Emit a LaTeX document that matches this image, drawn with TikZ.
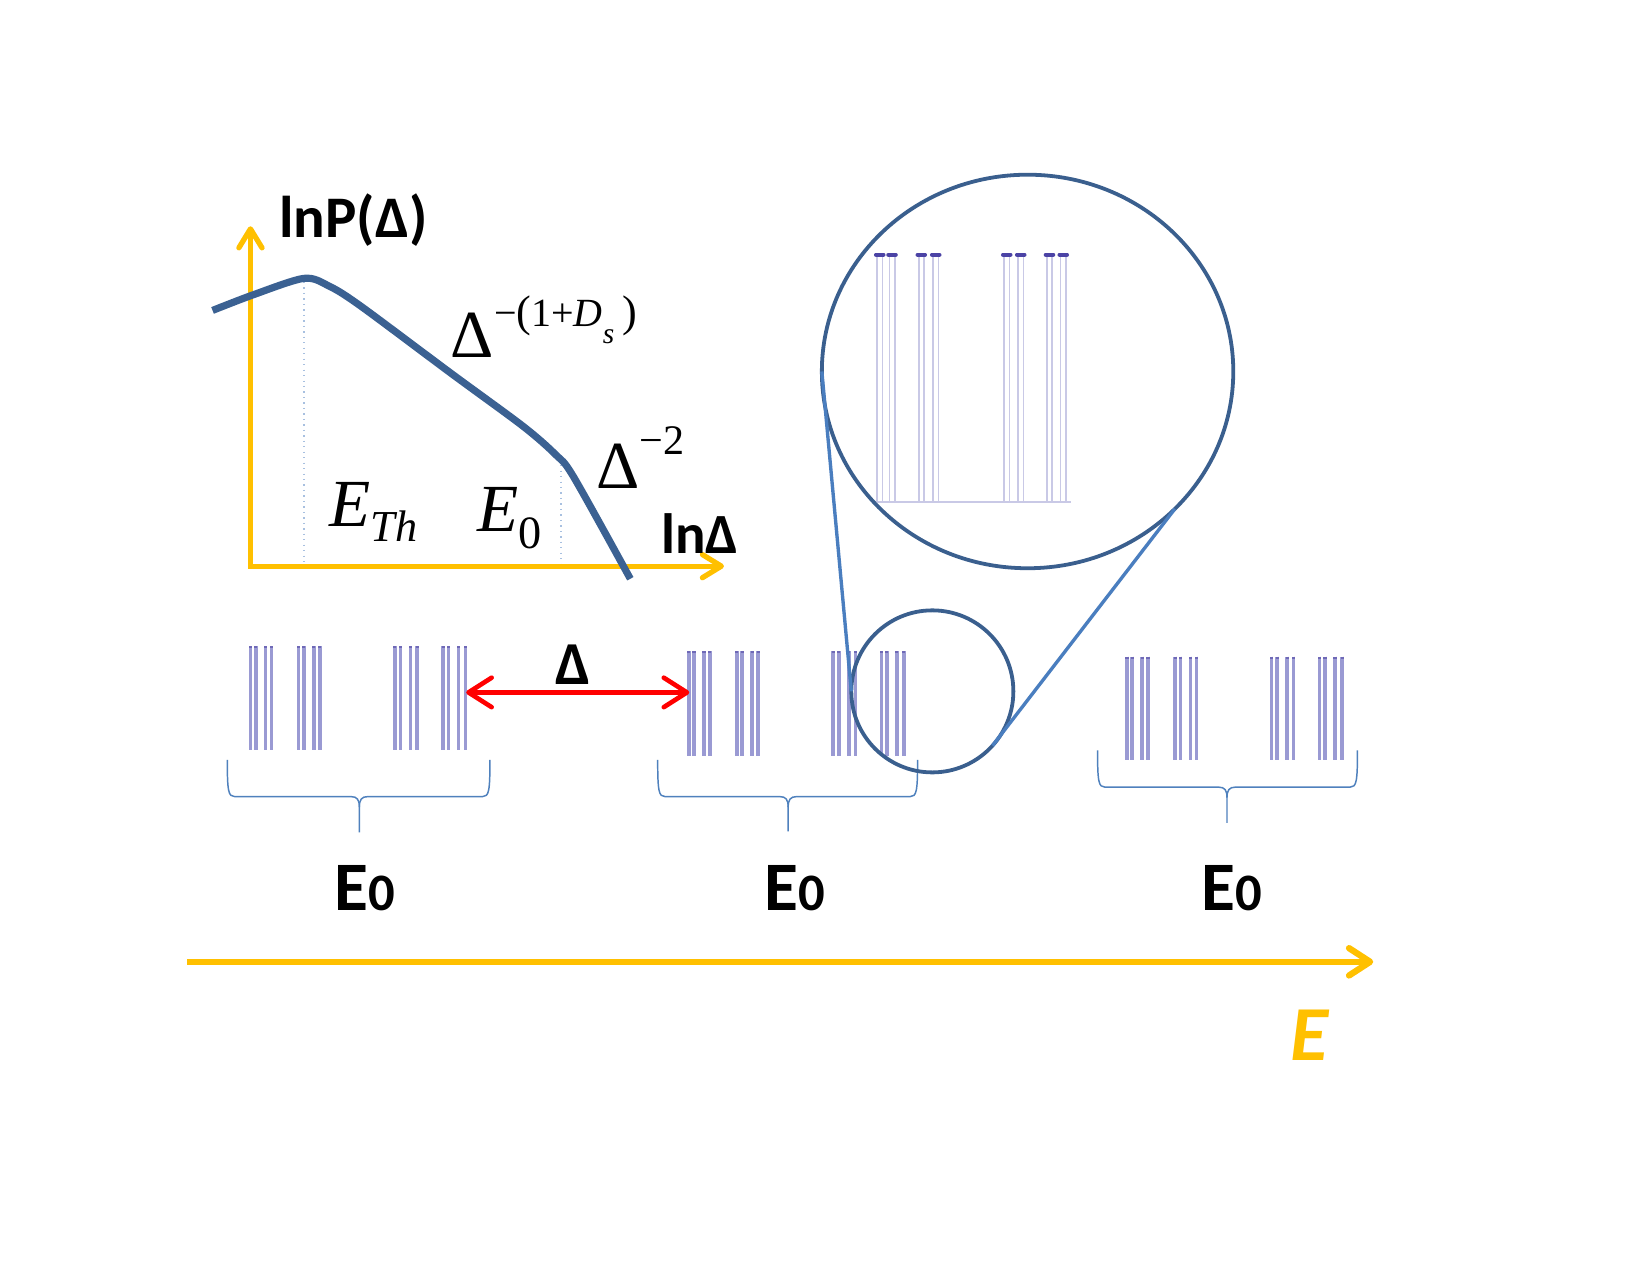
\documentclass[tikz,border=0pt]{standalone}
\usepackage{fontspec}
\setmainfont{Liberation Serif}
\newfontfamily\carl{Carlito}
\newfontfamily\tms{Liberation Serif}
\usetikzlibrary{arrows.meta,shapes.geometric}
\definecolor{axisy}{HTML}{FFC000}
\definecolor{curvec}{HTML}{3B6192}
\definecolor{circc}{HTML}{3A5F8E}
\definecolor{linkc}{HTML}{4A7EBF}
\definecolor{bracec}{HTML}{4F81BD}
\definecolor{barc}{HTML}{9A9AD3}
\definecolor{barcap}{HTML}{4B43A5}
\definecolor{zbarc}{HTML}{C9C9E6}
\definecolor{dotc}{HTML}{A8C0E0}
\definecolor{redc}{HTML}{FF0000}
\tikzset{
  axisline/.style={draw=axisy, line width=2.5pt, line join=miter},
  bigaxis/.style={draw=axisy, line width=3pt, -{Straight Barb[length=10pt,width=13pt,round]}},
  curveline/.style={draw=curvec, line width=3.4pt, line cap=butt, line join=round},
  dotline/.style={draw=dotc, line width=0.6pt, dotted},
  barline/.style={draw=barc, line width=1.7pt},
  barcapst/.style={draw=barcap!80!white, line width=1.5pt},
  zbar/.style={draw=zbarc, line width=0.8pt},
  zcap/.style={draw=barcap, line width=2pt, line cap=round},
  bracest/.style={draw=bracec, line width=0.7pt},
  ring/.style={draw=circc, line width=1.8pt, inner sep=0pt, outer sep=0pt},
  link/.style={draw=linkc, line width=1.6pt},
  redarrow/.style={draw=redc, line width=2.2pt, {Straight Barb[length=11pt,width=14pt,round]}-{Straight Barb[length=11pt,width=14pt,round]}},
  sanslab/.style={inner sep=0pt, font=\carl\bfseries},
  txt/.style={inner sep=0pt},
}
\newcommand\bargroup[3]{%
  \foreach \d in {0,5,14.5,20,45.7,50.7,60.2,66,137.2,142.6,152.1,158.4,183.1,188.2,197.7,204.4}{%
    \draw[barline] ({#1+\d},#2) -- ({#1+\d},#3);
    \draw[barcapst] ({#1+\d},#2) -- ({#1+\d},{#2+2});
  }}
\newcommand\bracedown[6]{% L R top h M tip
  \draw[bracest] (#1,#3) .. controls (#1,{#4-5}) and ({#1+1},#4) .. ({#1+7},#4)
    -- ({#5-8},#4) .. controls ({#5-2},#4) and (#5,{#4+3}) .. (#5,{#4+10}) -- (#5,#6);
  \draw[bracest] (#2,#3) .. controls (#2,{#4-5}) and ({#2-1},#4) .. ({#2-7},#4)
    -- ({#5+8},#4) .. controls ({#5+2},#4) and (#5,{#4+3}) .. (#5,{#4+10});
}
\begin{document}
\begin{tikzpicture}[x=0.5pt,y=-0.5pt]
\useasboundingbox (0,0) rectangle (1568,1212);
\fill[white] (0,0) rectangle (1568,1212);

% ---- plot
\coordinate (o) at (238,538);
\coordinate (ytip) at (238,215);
\coordinate (xtip) at (688,538);
\draw[dotline] (289,268) -- (289,538);
\draw[dotline] (533,442) -- (533,538);
\draw[axisline, {Straight Barb[length=9pt,width=11pt,round]}-{Straight Barb[length=9pt,width=11pt,round]}] (ytip) -- (o) -- (xtip);
\draw[curveline] plot[smooth,tension=0.5] coordinates {(202,295) (241,280) (289,264.5) (313,272) (343,291) (429,355) (497,405) (528,432) (545,453) (599,550)};

\node[sanslab, anchor=base west] (ylab) at (265,226) {\fontsize{28}{28}\selectfont lnP(Δ)};
\node[sanslab, anchor=base west] (xlab) at (628,526) {\fontsize{27}{27}\selectfont lnΔ};
\node[txt, anchor=base west] (lawa) at (428,340) {\tms\fontsize{32}{32}\selectfont Δ\raisebox{15pt}{\fontsize{19}{19}\selectfont −{\fontsize{21}{21}\selectfont(}1+\textit{D}\raisebox{-8pt}{\fontsize{14}{14}\selectfont\textit{s}}\hspace{4pt}{\fontsize{21}{21}\selectfont)}}};
\node[txt, anchor=base west] (lawb) at (566,464) {\tms\fontsize{32}{32}\selectfont Δ\raisebox{16pt}{\fontsize{20}{20}\selectfont −2}};
\node[txt, anchor=base west] (eth) at (313,500) {\tms\fontsize{32}{32}\selectfont\textit{E}\raisebox{-7.5pt}{\fontsize{21}{21}\selectfont\textit{Th}}};
\node[txt, anchor=base west] (ezero) at (453,505) {\tms\fontsize{32}{32}\selectfont\textit{E}\raisebox{-8pt}{\fontsize{22}{22}\selectfont 0}};

% ---- spectra
\bargroup{238}{614}{713}
\bargroup{654.5}{619}{718}
\bargroup{1071}{624}{722}

% zoomed spectrum
\draw[zbar] (833,477) -- (1018,477);
\foreach \c in {836,847.7,875.5,889.2,956.7,970,997.3,1010.4}{
  \draw[zbar] ({\c-2.5},242) -- ({\c-2.5},477);
  \draw[zbar] ({\c+2.5},242) -- ({\c+2.5},477);
  \draw[zcap] ({\c-3.5},242) -- ({\c+3.5},242);
}

% ---- braces
\bracedown{216}{465.6}{722}{757}{341.5}{791}
\bracedown{625}{872}{722}{757}{749}{790}
\bracedown{1043}{1290}{713}{748}{1166}{782}

% ---- red arrow
\coordinate (ra) at (443,658);
\coordinate (rb) at (655,658);
\draw[redarrow] (ra) -- (rb);
\node[sanslab, anchor=base] (dlab) at (545,650) {\fontsize{29}{29}\selectfont Δ};

% ---- circles
\node[ring, circle, minimum size=77pt] (smallc) at (886,657) {};
\node[ring, ellipse, minimum width=195.5pt, minimum height=187pt] (bigc) at (976.5,353) {};
\draw[link] (bigc.west) -- (smallc.west);
\draw[link] (bigc.-43) -- (smallc.-42);

% ---- E0 labels
\node[sanslab, anchor=base] (e1) at (347,865) {\fontsize{33}{33}\selectfont E{\fontsize{25}{25}\selectfont 0}};
\node[sanslab, anchor=base] (e2) at (755,865) {\fontsize{33}{33}\selectfont E{\fontsize{25}{25}\selectfont 0}};
\node[sanslab, anchor=base] (e3) at (1171,865) {\fontsize{33}{33}\selectfont E{\fontsize{25}{25}\selectfont 0}};

% ---- energy axis
\coordinate (ea) at (178,914);
\coordinate (eb) at (1305,914);
\draw[bigaxis] (ea) -- (eb);
\node[sanslab, anchor=base west, text=axisy] (elab) at (1226,1008) {\itshape\fontsize{37}{37}\selectfont E};
\end{tikzpicture}
\end{document}
